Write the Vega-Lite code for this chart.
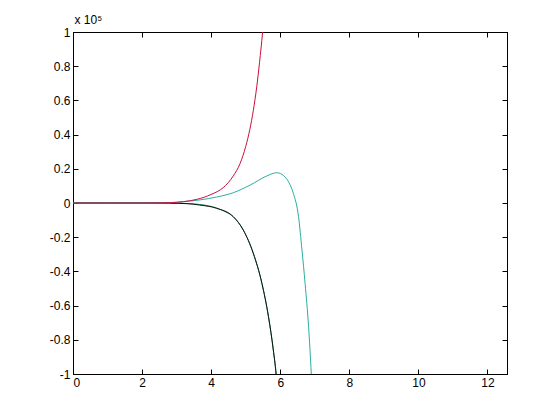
{
  "$schema": "https://vega.github.io/schema/vega-lite/v6.json",
  "width": 434,
  "height": 342,
  "autosize": "none",
  "padding": {"left": 73, "top": 32, "right": 53, "bottom": 46},
  "background": "white",
  "config": {
    "view": {"stroke": "black", "strokeWidth": 1},
    "axis": {
      "grid": false,
      "domainColor": "black",
      "tickColor": "black",
      "tickSize": -5,
      "labelColor": "black",
      "labelFont": "Liberation Sans",
      "labelFontSize": 12,
      "titleFont": "Liberation Sans",
      "labelPadding": 8
    }
  },
  "datasets": {
    "curves": [
      {"x": 0, "y": 0, "s": "green"}, {"x": 1, "y": 0, "s": "green"}, {"x": 2, "y": 0, "s": "green"}, {"x": 2.8, "y": 0, "s": "green"},
      {"x": 3.2, "y": -0.002, "s": "green"}, {"x": 3.6, "y": -0.007, "s": "green"}, {"x": 4.0, "y": -0.02, "s": "green"},
      {"x": 4.4, "y": -0.05, "s": "green"}, {"x": 4.64, "y": -0.08, "s": "green"}, {"x": 4.93, "y": -0.158, "s": "green"},
      {"x": 5.22, "y": -0.294, "s": "green"}, {"x": 5.47, "y": -0.47, "s": "green"}, {"x": 5.66, "y": -0.665, "s": "green"},
      {"x": 5.8, "y": -0.86, "s": "green"}, {"x": 5.88, "y": -1.0, "s": "green"}, {"x": 5.95, "y": -1.2, "s": "green"},

      {"x": 0, "y": 0, "s": "black"}, {"x": 1, "y": 0, "s": "black"}, {"x": 2, "y": 0, "s": "black"}, {"x": 2.8, "y": -0.001, "s": "black"},
      {"x": 3.3, "y": -0.004, "s": "black"}, {"x": 3.67, "y": -0.012, "s": "black"}, {"x": 4.16, "y": -0.031, "s": "black"},
      {"x": 4.64, "y": -0.08, "s": "black"}, {"x": 4.93, "y": -0.158, "s": "black"}, {"x": 5.22, "y": -0.294, "s": "black"},
      {"x": 5.47, "y": -0.47, "s": "black"}, {"x": 5.66, "y": -0.665, "s": "black"}, {"x": 5.8, "y": -0.86, "s": "black"},
      {"x": 5.88, "y": -1.0, "s": "black"}, {"x": 5.95, "y": -1.2, "s": "black"},

      {"x": 0, "y": 0, "s": "cyan"}, {"x": 1, "y": 0, "s": "cyan"}, {"x": 2, "y": 0, "s": "cyan"}, {"x": 2.8, "y": 0.002, "s": "cyan"},
      {"x": 3.2, "y": 0.008, "s": "cyan"}, {"x": 3.67, "y": 0.018, "s": "cyan"}, {"x": 4.16, "y": 0.035, "s": "cyan"},
      {"x": 4.64, "y": 0.06, "s": "cyan"}, {"x": 5.13, "y": 0.105, "s": "cyan"}, {"x": 5.61, "y": 0.158, "s": "cyan"},
      {"x": 5.9, "y": 0.177, "s": "cyan"}, {"x": 6.1, "y": 0.16, "s": "cyan"}, {"x": 6.25, "y": 0.12, "s": "cyan"},
      {"x": 6.38, "y": 0.057, "s": "cyan"}, {"x": 6.53, "y": -0.08, "s": "cyan"}, {"x": 6.63, "y": -0.275, "s": "cyan"},
      {"x": 6.72, "y": -0.47, "s": "cyan"}, {"x": 6.82, "y": -0.72, "s": "cyan"}, {"x": 6.9, "y": -1.0, "s": "cyan"},
      {"x": 6.95, "y": -1.2, "s": "cyan"},

      {"x": 0, "y": 0, "s": "red"}, {"x": 1, "y": 0, "s": "red"}, {"x": 2, "y": 0, "s": "red"}, {"x": 2.8, "y": 0.002, "s": "red"},
      {"x": 3.2, "y": 0.008, "s": "red"}, {"x": 3.6, "y": 0.022, "s": "red"}, {"x": 4.0, "y": 0.05, "s": "red"},
      {"x": 4.35, "y": 0.09, "s": "red"}, {"x": 4.64, "y": 0.158, "s": "red"}, {"x": 4.84, "y": 0.232, "s": "red"},
      {"x": 5.0, "y": 0.33, "s": "red"}, {"x": 5.12, "y": 0.43, "s": "red"}, {"x": 5.22, "y": 0.54, "s": "red"},
      {"x": 5.32, "y": 0.68, "s": "red"}, {"x": 5.4, "y": 0.82, "s": "red"}, {"x": 5.49, "y": 1.0, "s": "red"},
      {"x": 5.6, "y": 1.27, "s": "red"}
    ],
    "frame": [{"x": 0, "y": 0}]
  },
  "resolve": {"axis": {"x": "independent", "y": "independent"}},
  "layer": [
    {
      "data": {"name": "curves"},
      "mark": {"type": "line", "clip": true, "strokeWidth": 1, "interpolate": "monotone"},
      "encoding": {
        "x": {
          "field": "x", "type": "quantitative",
          "scale": {"domain": [0, 12.566], "nice": false, "zero": false},
          "axis": {"values": [0, 2, 4, 6, 8, 10, 12], "title": null, "format": "d"}
        },
        "y": {
          "field": "y", "type": "quantitative",
          "scale": {"domain": [-1, 1], "nice": false},
          "axis": {
            "values": [-1, -0.8, -0.6, -0.4, -0.2, 0, 0.2, 0.4, 0.6, 0.8, 1],
            "labelExpr": "replace(datum.value == 0 ? '0' : (abs(datum.value) == 1 ? format(datum.value, 'd') : format(datum.value, '.1f')), '\u2212', '-')",
            "title": "x 10⁵",
            "titleAngle": 0,
            "titleX": 1,
            "titleY": -6,
            "titleAlign": "left",
            "titleBaseline": "bottom",
            "titleFontSize": 12,
            "titleFontWeight": "normal",
            "titleColor": "black"
          }
        },
        "color": {
          "field": "s", "type": "nominal", "legend": null,
          "scale": {"domain": ["green", "black", "cyan", "red"], "range": ["#1a9a55", "#111111", "#2aaea0", "#c8103c"]}
        },
        "order": {"field": "s"}
      }
    },
    {
      "data": {"name": "frame"},
      "mark": {"type": "point", "opacity": 0},
      "encoding": {
        "x": {
          "field": "x", "type": "quantitative",
          "scale": {"domain": [0, 12.566], "nice": false, "zero": false},
          "axis": {"orient": "top", "values": [0, 2, 4, 6, 8, 10, 12], "labels": false, "title": null}
        },
        "y": {
          "field": "y", "type": "quantitative",
          "scale": {"domain": [-1, 1], "nice": false},
          "axis": {"orient": "right", "values": [-1, -0.8, -0.6, -0.4, -0.2, 0, 0.2, 0.4, 0.6, 0.8, 1], "labels": false, "title": null}
        }
      }
    }
  ]
}
